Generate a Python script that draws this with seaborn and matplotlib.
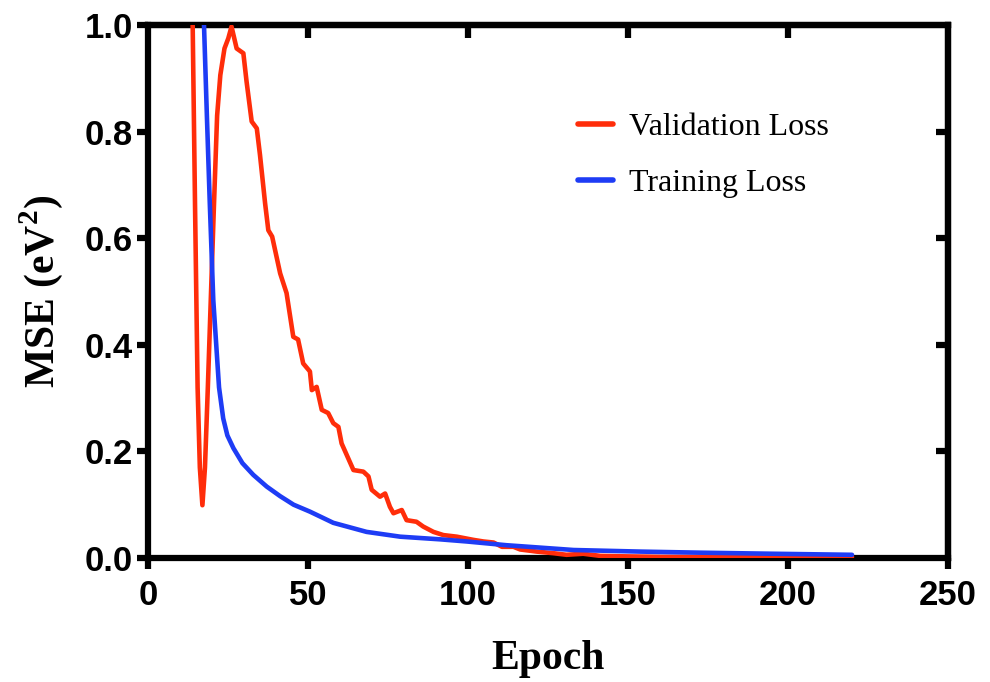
import matplotlib
matplotlib.use("Agg")
import matplotlib.pyplot as plt
import seaborn as sns
import pandas as pd

# Loss curves per epoch
val_epoch = [13.6, 13.96, 14.7, 15.5, 16.2, 17.0, 17.8, 18.7, 20.6, 21.6, 22.6,
             23.9, 25.1, 26.1, 27.7, 29.8, 30.8, 32.4, 34.0, 35.0, 36.6, 37.6,
             38.8, 41.3, 43.3, 45.4, 46.9, 48.5, 50.6, 51.2, 52.7, 54.3, 56.3,
             57.9, 59.5, 60.5, 64.2, 67.3, 68.9, 69.9, 72.5, 74.1, 75.6, 76.7,
             79.3, 80.8, 83.9, 86.0, 89.2, 92.3, 96.5, 101.7, 104.8, 108.0,
             110.6, 114.2, 116.3, 121.5, 126.7, 130.8, 136.0, 141.3, 149.6,
             160.0, 175.0, 190.0, 205.0, 220.0]
val_mse = [1.03, 1.0, 0.66, 0.32, 0.17, 0.099, 0.17, 0.32, 0.66, 0.83, 0.906,
           0.956, 0.975, 0.997, 0.956, 0.947, 0.894, 0.819, 0.806, 0.756, 0.665,
           0.615, 0.603, 0.534, 0.497, 0.415, 0.41, 0.365, 0.35, 0.315, 0.321,
           0.278, 0.272, 0.253, 0.246, 0.215, 0.165, 0.162, 0.153, 0.128, 0.115,
           0.121, 0.096, 0.084, 0.09, 0.071, 0.068, 0.059, 0.049, 0.043, 0.040,
           0.034, 0.031, 0.029, 0.021, 0.021, 0.016, 0.012, 0.009, 0.006, 0.008,
           0.004, 0.003, 0.002, 0.002, 0.002, 0.002, 0.002]

train_epoch = [17.2, 17.5, 18.4, 19.3, 20.4, 22.2, 23.5, 24.8, 26.7, 29.5, 32.9,
               37.1, 41.3, 45.5, 50.6, 57.9, 68.3, 78.8, 91.3, 99.6, 112.0,
               133.0, 154.0, 172.5, 195.0, 220.0]
train_mse = [1.06, 1.0, 0.83, 0.667, 0.484, 0.32, 0.262, 0.23, 0.206, 0.178,
             0.156, 0.134, 0.116, 0.100, 0.087, 0.066, 0.049, 0.040, 0.035,
             0.031, 0.024, 0.015, 0.012, 0.010, 0.008, 0.006]

series_names = ["Validation Loss", "Training Loss"]
series_colors = ["#FF2D0A", "#1E3CF5"]
x_ticks = [0, 50, 100, 150, 200, 250]
y_ticks = [0.0, 0.2, 0.4, 0.6, 0.8, 1.0]

sns.set_theme(style="ticks")
plt.rcParams["font.family"] = ["Liberation Serif", "DejaVu Serif"]
plt.rcParams["text.color"] = "black"
plt.rcParams["axes.labelcolor"] = "black"
plt.rcParams["xtick.color"] = "black"
plt.rcParams["ytick.color"] = "black"
plt.rcParams["mathtext.fontset"] = "custom"
plt.rcParams["mathtext.rm"] = "Liberation Serif:bold"
plt.rcParams["mathtext.bf"] = "Liberation Serif:bold"

df = pd.concat([
    pd.DataFrame({"epoch": val_epoch, "mse": val_mse, "series": series_names[0]}),
    pd.DataFrame({"epoch": train_epoch, "mse": train_mse, "series": series_names[1]}),
], ignore_index=True)

fig = plt.figure(figsize=(9.9, 6.82), dpi=100)
ax = fig.add_axes([148 / 990, 1 - 558 / 682, 800 / 990, 533 / 682])

sns.lineplot(data=df, x="epoch", y="mse", hue="series", hue_order=series_names,
             palette=series_colors, estimator=None, sort=False, linewidth=3.3,
             ax=ax, zorder=3)

ax.set_xlim(0, 250)
ax.set_ylim(0, 1.0)
ax.set_xticks(x_ticks)
ax.set_xticklabels([str(t) for t in x_ticks])
ax.set_yticks(y_ticks)
ax.set_yticklabels([f"{t:.1f}" for t in y_ticks])

spine_w = 4.5
for side in ["left", "bottom", "top", "right"]:
    ax.spines[side].set_visible(True)
    ax.spines[side].set_linewidth(spine_w)
    ax.spines[side].set_color("black")

ax.tick_params(axis="both", direction="out", length=8, width=spine_w,
               color="black", labelcolor="black", labelsize=25, pad=3)
ax.tick_params(axis="x", pad=7)
tick_font = ["Liberation Sans Narrow", "Liberation Sans", "DejaVu Sans"]
for lab in ax.get_xticklabels() + ax.get_yticklabels():
    lab.set_fontfamily(tick_font)
    lab.set_fontweight("bold")
    lab.set_color("black")

# Mirrored ticks on the top and right spines, pointing inward
sec_x = ax.secondary_xaxis("top")
sec_x.set_xticks(x_ticks[1:-1])
sec_x.tick_params(direction="in", length=9, width=spine_w, labeltop=False)
sec_x.spines["top"].set_linewidth(spine_w)
sec_y = ax.secondary_yaxis("right")
sec_y.set_yticks(y_ticks[1:-1])
sec_y.tick_params(direction="in", length=9, width=spine_w, labelright=False)
sec_y.spines["right"].set_linewidth(spine_w)

ax.set_xlabel("Epoch", fontsize=30, fontweight="bold", labelpad=20,
              color="black", family=["Liberation Serif", "DejaVu Serif"])
ax.set_ylabel(r"MSE (eV$^{2}$)", fontsize=30, fontweight="bold", labelpad=14,
              color="black", family=["Liberation Serif", "DejaVu Serif"])

handles, labels = ax.get_legend_handles_labels()
leg = ax.legend(handles, labels, loc="center left",
                bbox_to_anchor=(0.537, 0.755), frameon=False,
                handlelength=1.1, handletextpad=0.5, labelspacing=0.83,
                borderpad=0, borderaxespad=0,
                prop={"family": ["Liberation Serif", "DejaVu Serif"], "size": 23})
for line in leg.get_lines():
    line.set_linewidth(4)
for txt in leg.get_texts():
    txt.set_color("black")

fig.savefig("out.png", dpi=100, facecolor="white")
